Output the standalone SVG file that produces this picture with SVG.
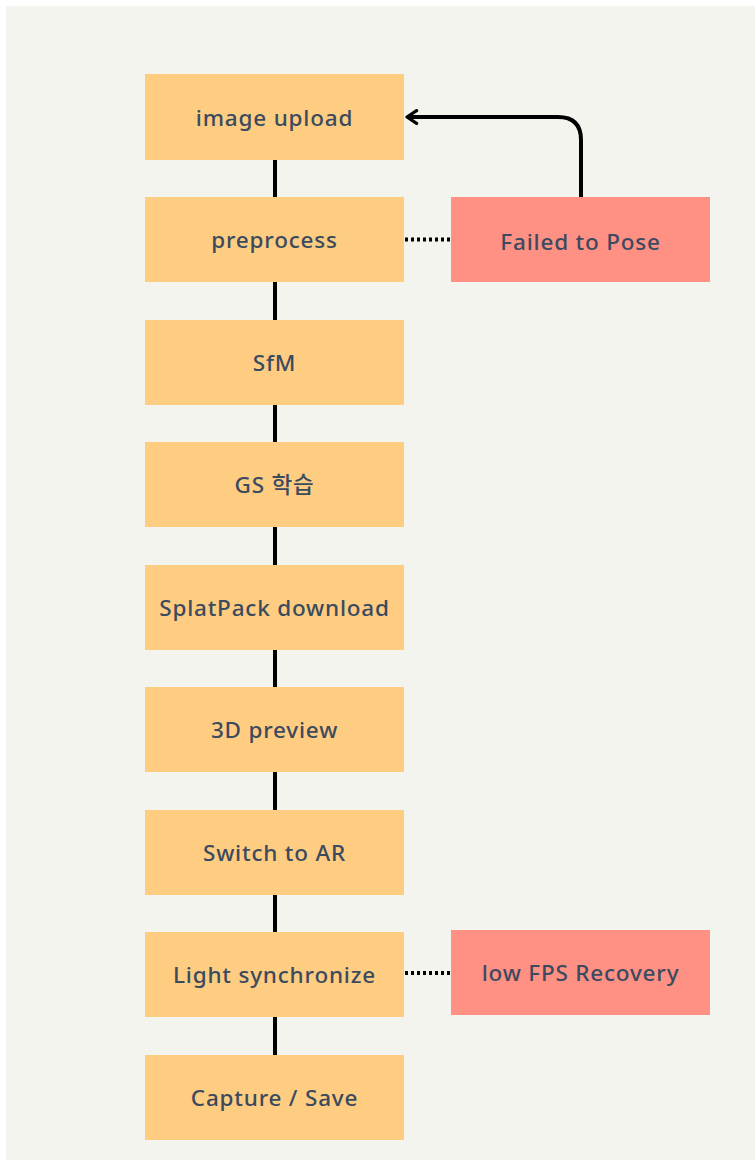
<svg xmlns="http://www.w3.org/2000/svg" width="755" height="1160" viewBox="0 0 755 1160">
<style>
.step{fill:#fecd81}
.err{fill:#ff9084}
text{font-family:"Noto Sans","Noto Sans CJK KR",sans-serif;font-size:22.5px;font-weight:500;letter-spacing:0.8px;fill:#3b4a5e;text-anchor:middle;dominant-baseline:central}
.line{stroke:#000;stroke-width:4;fill:none}
.dot{stroke:#000;stroke-width:4;stroke-dasharray:3 3;fill:none}
</style>
<defs>
<marker id="arr" viewBox="0 0 10 10" refX="8" refY="5" markerWidth="4" markerHeight="4" orient="auto" markerUnits="strokeWidth">
<path d="M2,1 L8,5 L2,9" fill="none" stroke="#000" stroke-width="2" stroke-linecap="round" stroke-linejoin="round"/>
</marker>
</defs>
<rect x="0" y="0" width="755" height="1160" fill="#ffffff"/>
<rect x="6" y="6" width="749" height="1154" fill="#f4f4ef"/>
<g id="connectors">
<line class="line" x1="275" y1="160" x2="275" y2="197"/>
<line class="line" x1="275" y1="282" x2="275" y2="320"/>
<line class="line" x1="275" y1="405" x2="275" y2="442"/>
<line class="line" x1="275" y1="527" x2="275" y2="565"/>
<line class="line" x1="275" y1="650" x2="275" y2="687"/>
<line class="line" x1="275" y1="772" x2="275" y2="810"/>
<line class="line" x1="275" y1="895" x2="275" y2="932"/>
<line class="line" x1="275" y1="1017" x2="275" y2="1055"/>
<line class="dot" x1="405" y1="239.5" x2="451" y2="239.5"/>
<line class="dot" x1="405" y1="973" x2="451" y2="973"/>
<path class="line" d="M581,197 V140 Q581,117 558,117 H407" marker-end="url(#arr)"/>
</g>
<g id="n1"><rect class="step" x="145" y="74" width="259" height="86"/><text x="274.5" y="117">image upload</text></g>
<g id="n2"><rect class="step" x="145" y="197" width="259" height="85"/><text x="274.5" y="239.5">preprocess</text></g>
<g id="n3"><rect class="step" x="145" y="320" width="259" height="85"/><text x="274.5" y="362.5">SfM</text></g>
<g id="n4"><rect class="step" x="145" y="442" width="259" height="85"/><text x="274.5" y="484.5">GS 학습</text></g>
<g id="n5"><rect class="step" x="145" y="565" width="259" height="85"/><text x="274.5" y="607.5">SplatPack download</text></g>
<g id="n6"><rect class="step" x="145" y="687" width="259" height="85"/><text x="274.5" y="729.5">3D preview</text></g>
<g id="n7"><rect class="step" x="145" y="810" width="259" height="85"/><text x="274.5" y="852.5">Switch to AR</text></g>
<g id="n8"><rect class="step" x="145" y="932" width="259" height="85"/><text x="274.5" y="974.5">Light synchronize</text></g>
<g id="n9"><rect class="step" x="145" y="1055" width="259" height="85"/><text x="274.5" y="1097.5">Capture / Save</text></g>
<g id="e1"><rect class="err" x="451" y="197" width="259" height="85"/><text x="580.5" y="241">Failed to Pose</text></g>
<g id="e2"><rect class="err" x="451" y="930" width="259" height="85"/><text x="580.5" y="972.5">low FPS Recovery</text></g>
</svg>
